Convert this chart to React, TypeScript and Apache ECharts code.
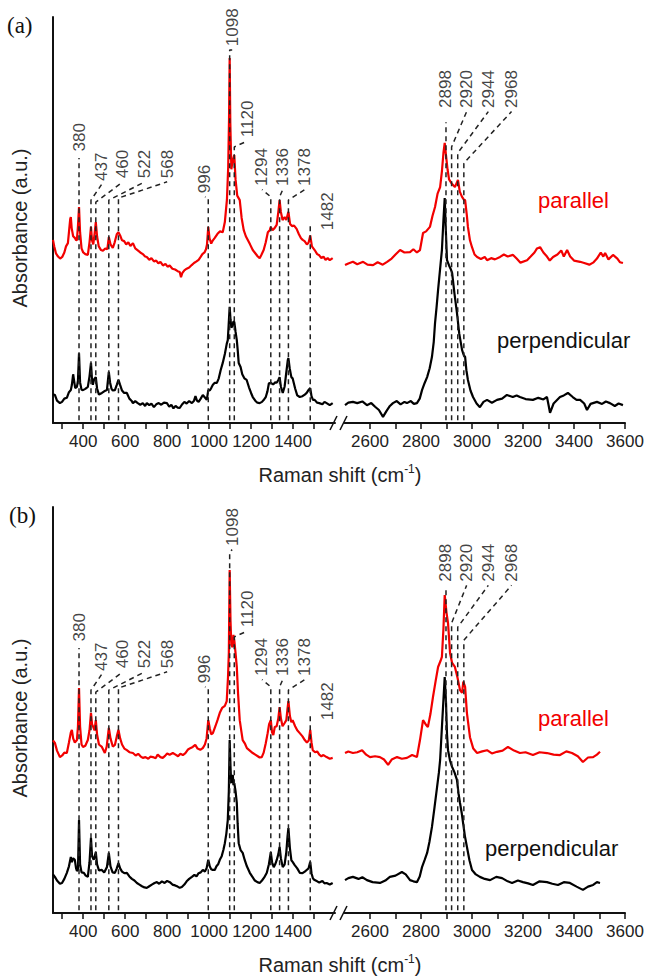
import React, { useEffect, useRef } from "react";
import * as echarts from "echarts";

// ---------------- DATA ----------------
// Raman shift (cm-1) vs absorbance (a.u., arbitrary 0-100 scale)
const lowTicks = [300, 400, 500, 600, 700, 800, 900, 1000, 1100, 1200, 1300, 1400, 1500];
const lowLabels = [400, 600, 800, 1000, 1200, 1400];
const highTicks = [2600, 2700, 2800, 2900, 3000, 3100, 3200, 3300, 3400, 3500, 3600];
const highLabels = [2600, 2800, 3000, 3200, 3400, 3600];

const peaksLow = [380, 437, 460, 522, 568, 996, 1098, 1120, 1294, 1336, 1378, 1482];
const peaksHigh = [2898, 2920, 2944, 2968];

// panel (a)
const parallelA_low = [[256,45.1],[262,43.5],[270,41.8],[280,41.0],[290,40.5],[300,40.9],[310,42.0],[318,43.5],[327,44.3],[333,47.5],[338,50.2],[341,50.7],[345,48.0],[352,46.0],[360,45.6],[366,45.0],[370,45.1],[375,48.5],[380,53.2],[385,47.0],[392,43.0],[400,42.0],[410,41.6],[422,41.4],[430,44.5],[437,48.3],[442,45.0],[448,44.0],[454,46.5],[460,49.5],[466,46.0],[474,43.5],[485,42.6],[494,42.4],[505,43.0],[515,42.8],[522,45.8],[530,44.0],[541,43.1],[550,44.5],[560,46.5],[568,47.0],[576,46.2],[585,45.0],[595,44.8],[605,44.0],[615,44.5],[625,43.6],[637,44.3],[648,43.0],[660,42.5],[672,42.0],[684,41.6],[695,41.0],[703,40.9],[715,40.2],[725,40.6],[737,39.8],[748,40.0],[758,39.3],[768,39.7],[780,38.8],[792,39.2],[802,38.5],[812,38.8],[825,38.0],[838,37.8],[850,37.4],[860,37.2],[866,35.9],[872,36.9],[882,37.6],[893,38.0],[905,38.3],[917,38.9],[928,39.4],[940,39.8],[950,40.2],[958,40.8],[968,41.6],[978,42.0],[985,42.8],[990,44.0],[996,48.3],[1002,45.5],[1010,44.2],[1018,45.0],[1027,45.6],[1040,46.6],[1052,47.2],[1065,47.0],[1075,49.5],[1085,55.0],[1091,63.0],[1095,75.0],[1098,89.9],[1101,74.0],[1106,62.5],[1112,64.5],[1120,66.0],[1126,60.0],[1134,56.0],[1146,54.9],[1155,50.5],[1165,47.5],[1175,46.0],[1185,45.0],[1195,44.0],[1208,42.6],[1220,41.8],[1232,41.0],[1241,40.6],[1250,41.5],[1260,42.6],[1270,44.5],[1280,47.0],[1289,47.5],[1294,48.3],[1302,47.5],[1312,48.0],[1322,48.8],[1330,52.0],[1336,54.9],[1342,52.0],[1350,50.0],[1360,50.7],[1368,50.0],[1378,52.0],[1386,49.0],[1395,48.5],[1405,48.6],[1417,47.8],[1428,46.5],[1438,45.5],[1446,45.1],[1455,44.8],[1466,44.0],[1474,44.4],[1482,46.2],[1490,43.5],[1503,42.6],[1515,41.6],[1525,41.3],[1535,40.6],[1545,41.0],[1555,40.2],[1565,40.6],[1575,40.1],[1589,40.6]];
const perpendicularA_low = [[256,7.1],[265,6.9],[275,5.5],[289,4.9],[299,5.2],[310,6.0],[322,6.2],[332,7.6],[341,8.1],[346,9.4],[352,12.0],[356,10.6],[362,8.6],[370,8.9],[375,10.5],[380,17.2],[385,10.0],[392,8.2],[399,8.1],[410,8.4],[422,8.9],[430,11.5],[437,14.8],[442,10.5],[446,9.4],[452,10.8],[460,11.3],[466,8.5],[475,7.0],[489,7.4],[500,7.8],[513,8.1],[522,12.6],[528,10.0],[535,8.4],[541,8.0],[551,8.1],[560,9.4],[568,10.6],[575,9.5],[585,8.0],[595,7.4],[608,7.4],[620,6.0],[630,5.5],[637,4.9],[648,5.4],[660,4.9],[672,4.5],[684,4.9],[695,4.2],[703,4.9],[715,4.4],[725,4.8],[737,3.9],[748,4.6],[760,4.9],[772,4.5],[785,5.0],[799,4.9],[810,4.0],[820,4.5],[830,3.6],[840,4.2],[850,3.8],[860,3.7],[870,4.5],[882,5.2],[893,4.8],[905,5.4],[918,4.9],[928,5.5],[935,6.6],[942,5.5],[950,5.2],[960,6.0],[970,6.9],[978,6.4],[989,5.7],[996,8.1],[1003,8.0],[1010,8.6],[1018,9.4],[1027,9.9],[1037,9.9],[1046,11.0],[1055,13.0],[1065,14.8],[1075,17.0],[1084,19.5],[1089,20.4],[1093,24.0],[1098,28.6],[1102,25.5],[1106,23.5],[1110,23.8],[1116,25.0],[1120,24.9],[1126,22.5],[1132,20.4],[1137,17.5],[1141,14.8],[1150,13.8],[1158,12.0],[1168,11.0],[1179,10.6],[1190,8.8],[1200,7.4],[1208,6.4],[1220,5.5],[1230,5.0],[1241,4.9],[1252,5.2],[1262,5.8],[1270,6.4],[1278,7.8],[1285,9.8],[1294,9.9],[1305,9.5],[1315,10.0],[1322,9.9],[1330,10.6],[1336,11.3],[1342,9.0],[1351,7.4],[1360,9.0],[1368,12.5],[1375,15.5],[1378,16.0],[1384,13.5],[1392,11.3],[1398,11.0],[1410,8.5],[1420,6.8],[1432,6.4],[1445,6.6],[1456,7.0],[1465,7.4],[1475,8.2],[1482,8.6],[1488,6.6],[1495,5.7],[1503,5.7],[1515,5.0],[1525,4.9],[1540,4.6],[1550,5.2],[1560,4.9],[1575,4.4],[1589,4.9]];
const parallelA_high = [[2502,38.9],[2515,39.3],[2533,39.7],[2550,39.1],[2573,39.7],[2590,39.0],[2612,38.9],[2630,39.6],[2650,39.0],[2667,39.7],[2685,40.5],[2700,41.5],[2718,42.6],[2735,42.0],[2757,42.1],[2770,42.8],[2784,42.0],[2796,42.6],[2808,46.8],[2820,47.2],[2835,48.3],[2845,51.0],[2855,53.2],[2865,56.5],[2875,58.1],[2882,62.0],[2888,66.5],[2893,69.0],[2898,66.0],[2904,62.5],[2910,60.0],[2920,59.0],[2933,58.1],[2945,59.9],[2952,57.0],[2961,55.7],[2968,55.0],[2973,54.9],[2980,51.0],[2984,48.3],[2992,45.0],[3000,43.3],[3010,41.5],[3020,40.9],[3035,40.4],[3050,40.9],[3059,40.1],[3075,40.6],[3090,40.3],[3110,40.9],[3125,41.5],[3140,41.0],[3161,41.4],[3175,40.5],[3190,39.5],[3216,40.1],[3230,41.0],[3245,42.0],[3255,43.0],[3267,43.3],[3280,42.0],[3294,41.0],[3305,40.0],[3318,40.9],[3335,41.5],[3350,42.5],[3360,41.0],[3373,42.6],[3385,41.0],[3400,40.0],[3424,39.7],[3440,39.4],[3460,39.0],[3475,39.5],[3490,40.5],[3505,42.0],[3515,41.0],[3522,41.9],[3535,40.3],[3553,41.4],[3570,40.5],[3580,39.6],[3592,39.4]];
const perpendicularA_high = [[2502,4.4],[2515,5.0],[2533,5.2],[2550,4.9],[2570,5.3],[2588,4.4],[2605,4.9],[2620,4.0],[2635,3.2],[2651,1.5],[2665,3.0],[2678,4.2],[2690,4.9],[2705,5.4],[2720,4.6],[2735,5.2],[2745,4.9],[2760,5.4],[2772,4.7],[2784,4.9],[2795,6.0],[2804,8.1],[2814,9.8],[2824,11.3],[2834,13.5],[2843,16.3],[2850,20.0],[2855,24.6],[2861,28.5],[2867,32.8],[2875,38.0],[2882,42.6],[2888,50.0],[2893,55.4],[2897,48.0],[2902,40.1],[2910,38.8],[2916,38.0],[2922,37.0],[2931,32.0],[2941,27.1],[2950,22.0],[2961,18.0],[2967,16.8],[2973,16.3],[2978,13.0],[2984,10.6],[2994,8.0],[3004,6.4],[3018,4.8],[3031,3.9],[3045,5.2],[3059,5.7],[3078,5.0],[3098,5.7],[3118,6.0],[3137,6.9],[3160,6.4],[3175,6.8],[3188,6.4],[3210,5.9],[3239,5.7],[3260,6.2],[3280,5.8],[3294,6.4],[3300,4.5],[3306,2.5],[3320,4.8],[3345,6.4],[3360,6.8],[3376,7.4],[3395,6.4],[3410,5.7],[3424,5.7],[3440,4.8],[3451,3.2],[3465,4.7],[3490,5.2],[3510,4.7],[3525,5.3],[3541,4.9],[3560,4.2],[3575,4.8],[3592,4.4]];

// panel (b)
const parallelB_low = [[256,42.5],[265,41.9],[275,40.0],[289,38.4],[300,38.8],[310,39.5],[322,39.4],[332,42.0],[341,44.5],[346,45.1],[352,43.0],[360,42.0],[370,42.6],[375,46.0],[380,55.4],[385,46.0],[392,41.5],[399,40.9],[410,41.2],[422,42.6],[430,45.0],[437,49.3],[442,46.5],[448,45.8],[454,45.0],[460,47.5],[466,44.0],[475,41.5],[489,40.9],[503,39.4],[512,41.0],[522,45.6],[530,43.0],[541,41.0],[551,41.4],[560,43.5],[568,45.1],[576,43.0],[585,41.5],[596,40.5],[608,40.1],[620,39.6],[637,39.4],[650,38.8],[662,39.2],[673,38.6],[684,38.2],[697,38.4],[710,38.0],[720,38.5],[732,38.4],[745,38.1],[755,39.0],[768,38.4],[779,38.2],[790,38.7],[800,39.3],[812,39.0],[827,39.4],[840,39.0],[852,38.6],[863,39.2],[875,38.9],[887,39.4],[898,40.2],[910,40.6],[922,40.9],[934,41.4],[945,40.5],[958,40.2],[970,40.6],[980,41.5],[988,43.0],[996,47.5],[1003,45.5],[1010,44.0],[1018,44.3],[1030,46.0],[1040,47.5],[1051,49.3],[1062,50.5],[1075,51.0],[1084,52.2],[1090,58.0],[1094,64.0],[1098,84.5],[1102,72.0],[1106,66.0],[1112,65.5],[1116,68.5],[1120,67.2],[1126,64.0],[1132,60.6],[1138,54.0],[1146,47.5],[1153,45.0],[1160,42.6],[1170,41.8],[1180,40.6],[1194,40.0],[1208,39.4],[1220,39.0],[1232,38.6],[1241,38.3],[1251,38.4],[1260,39.5],[1270,41.8],[1279,44.3],[1286,46.5],[1294,47.5],[1300,44.5],[1306,43.8],[1313,45.8],[1322,46.0],[1330,48.0],[1336,50.7],[1342,48.0],[1350,46.0],[1360,46.8],[1368,47.5],[1373,50.0],[1378,52.2],[1385,48.5],[1392,47.0],[1398,47.5],[1410,46.0],[1420,45.0],[1432,44.3],[1445,43.5],[1456,42.6],[1466,42.0],[1475,42.5],[1482,45.1],[1488,42.0],[1494,40.1],[1505,39.6],[1515,39.8],[1525,39.0],[1535,38.6],[1545,38.9],[1560,38.4],[1575,38.0],[1589,38.2]];
const perpendicularB_low = [[256,9.5],[265,8.9],[275,8.0],[289,7.2],[299,7.4],[310,8.4],[322,9.9],[332,11.5],[341,13.8],[346,12.5],[352,13.5],[360,13.1],[366,11.0],[370,10.4],[375,10.6],[380,22.9],[385,12.0],[392,10.0],[403,9.9],[412,9.2],[422,8.9],[430,12.5],[437,18.5],[442,14.0],[450,13.1],[455,14.0],[460,15.0],[466,12.0],[475,10.5],[489,10.6],[500,10.0],[513,11.3],[522,14.8],[530,11.5],[540,10.0],[551,9.9],[560,11.0],[568,12.3],[576,11.0],[585,10.2],[596,9.8],[608,9.9],[620,9.0],[632,8.4],[644,8.0],[656,7.4],[668,7.0],[680,6.6],[692,6.3],[703,6.2],[715,6.6],[727,7.0],[740,7.4],[751,7.6],[762,7.2],[775,7.8],[788,7.4],[800,7.9],[813,7.6],[825,7.0],[838,6.8],[850,6.5],[860,6.2],[870,6.4],[882,7.0],[893,7.8],[905,8.4],[918,8.9],[930,9.4],[940,9.0],[950,9.8],[960,10.0],[970,10.6],[980,10.2],[988,11.0],[996,13.1],[1003,11.5],[1010,10.8],[1018,10.6],[1027,10.6],[1035,11.5],[1043,12.0],[1051,13.1],[1060,14.0],[1068,15.5],[1075,17.2],[1082,19.5],[1089,22.9],[1094,30.0],[1098,42.6],[1102,36.0],[1105,32.0],[1108,33.5],[1113,34.0],[1116,31.5],[1120,32.0],[1126,30.0],[1132,27.1],[1136,22.0],[1141,17.2],[1150,15.5],[1160,14.8],[1170,13.0],[1180,11.5],[1194,9.9],[1205,9.0],[1218,8.0],[1230,7.6],[1241,7.4],[1252,8.0],[1262,8.7],[1275,9.9],[1285,12.0],[1294,15.0],[1300,12.5],[1308,11.3],[1315,12.0],[1322,13.0],[1330,14.5],[1336,16.3],[1342,13.5],[1351,11.3],[1360,12.0],[1368,15.0],[1374,19.0],[1378,20.9],[1385,16.0],[1392,13.0],[1398,12.6],[1408,11.8],[1420,11.0],[1432,9.9],[1445,9.8],[1456,10.2],[1465,10.6],[1474,11.0],[1482,12.6],[1488,9.8],[1495,8.5],[1503,8.1],[1515,7.8],[1525,7.5],[1540,7.9],[1550,7.3],[1560,7.4],[1575,7.0],[1589,7.4]];
const parallelB_high = [[2502,39.4],[2515,39.8],[2533,39.4],[2550,39.6],[2569,40.1],[2585,39.0],[2600,38.4],[2620,38.6],[2639,38.4],[2655,37.8],[2671,36.5],[2685,37.8],[2706,38.4],[2725,38.0],[2745,38.2],[2765,38.9],[2784,38.4],[2796,42.6],[2808,47.5],[2818,46.5],[2827,45.8],[2837,49.0],[2847,53.2],[2857,57.0],[2867,60.6],[2876,62.0],[2882,63.1],[2888,70.0],[2893,78.3],[2900,74.0],[2906,71.4],[2914,64.0],[2922,61.6],[2933,60.6],[2943,58.0],[2953,54.9],[2961,54.2],[2966,57.0],[2973,55.7],[2980,49.3],[2992,43.3],[3005,40.5],[3020,39.4],[3040,39.8],[3059,40.1],[3078,39.3],[3098,39.7],[3120,40.0],[3141,40.9],[3165,40.0],[3188,39.4],[3210,39.6],[3239,38.9],[3265,39.6],[3294,39.4],[3320,39.0],[3345,38.9],[3370,39.8],[3392,39.4],[3415,38.6],[3435,37.2],[3455,38.3],[3475,38.4],[3490,39.0],[3502,39.7]];
const perpendicularB_high = [[2502,8.1],[2515,8.6],[2533,8.9],[2555,8.4],[2570,8.8],[2588,8.1],[2610,7.6],[2639,7.4],[2660,8.0],[2678,8.9],[2700,9.2],[2725,10.1],[2740,9.5],[2757,8.1],[2770,7.8],[2784,7.6],[2795,9.0],[2804,11.3],[2814,13.0],[2824,14.8],[2833,17.5],[2843,21.2],[2853,26.0],[2863,31.0],[2870,34.5],[2875,37.7],[2884,48.0],[2893,58.1],[2898,52.0],[2902,44.0],[2906,40.1],[2914,37.5],[2922,36.0],[2932,34.5],[2941,32.8],[2947,29.5],[2953,27.1],[2960,24.5],[2965,22.2],[2972,19.0],[2980,16.3],[2990,13.0],[3000,10.6],[3015,9.5],[3031,8.9],[3050,8.4],[3071,8.1],[3095,8.9],[3118,8.6],[3140,7.8],[3157,7.4],[3180,8.0],[3200,7.6],[3220,7.3],[3239,6.9],[3265,7.8],[3294,7.6],[3315,7.2],[3337,6.9],[3360,7.6],[3384,7.4],[3410,6.5],[3435,5.7],[3455,6.5],[3475,6.9],[3490,7.6],[3502,7.4]];

// ---------------- ANNOTATION LAYOUT (data units) ----------------
// [lineTop, labelX, labelY] for each peak, same order as peaksLow / peaksHigh
const annLowA = [[65.3,380,66.9],[54.9,487,59.6],[54.4,589,60.3],[54.9,694,60.3],[55.4,800,60.3],[55.4,980,56.6],[91.9,1110,92.8],[68.0,1184,70.4],[55.7,1252,58.4],[55.7,1351,58.4],[54.9,1456,58.4],[49.3,1565,47.5]];
const annHighA = [[74.1,2898,77.6],[68.0,2979,77.6],[66.5,3064,77.6],[64.0,3155,77.6]];
const annLowB = [[65.3,380,66.9],[54.9,487,59.6],[54.4,589,60.3],[54.9,694,60.3],[55.4,800,60.3],[55.4,980,56.6],[88.9,1110,90.4],[68.0,1184,70.4],[55.7,1252,58.4],[55.7,1351,58.4],[54.9,1456,58.4],[49.3,1565,47.5]];
const annHighB = [[80.3,2898,81.6],[71.4,2979,81.6],[70.4,3064,81.6],[67.2,3155,81.6]];

// ---------------- LAYOUT ----------------
const SANS = "'Liberation Sans', Arial, Helvetica, sans-serif";
const SERIF = "'Liberation Serif', 'Times New Roman', serif";
const PANEL_TOPS = [17, 507];
const PLOT_H = 406;
const LOW_LEFT = 53, LOW_W = 282;
const HIGH_LEFT = 344.5, HIGH_W = 280.5;

function buildOption() {
  const grids: any[] = [];
  const xAxes: any[] = [];
  const yAxes: any[] = [];
  const series: any[] = [];
  const graphic: any[] = [];

  const panels = [
    { low: [parallelA_low, perpendicularA_low], high: [parallelA_high, perpendicularA_high], annLow: annLowA, annHigh: annHighA, tag: "(a)", parY: 200, perpX: 497, perpY: 340, tagX: 7 },
    { low: [parallelB_low, perpendicularB_low], high: [parallelB_high, perpendicularB_high], annLow: annLowB, annHigh: annHighB, tag: "(b)", parY: 718, perpX: 485, perpY: 848, tagX: 9 },
  ];

  panels.forEach((pn, pi) => {
    const top = PANEL_TOPS[pi];
    const off = top - PANEL_TOPS[0];
    [0, 1].forEach((side) => {
      const gi = pi * 2 + side;
      grids.push({
        left: side === 0 ? LOW_LEFT : HIGH_LEFT,
        top,
        width: side === 0 ? LOW_W : HIGH_W,
        height: PLOT_H,
        outerBoundsMode: "none",
      });
      xAxes.push({
        type: "value",
        gridIndex: gi,
        min: side === 0 ? 256 : 2500,
        max: side === 0 ? 1600 : 3600,
        axisLine: { show: true, onZero: false, lineStyle: { color: "#111", width: 2 } },
        axisTick: {
          show: true,
          customValues: side === 0 ? lowTicks : highTicks,
          length: 6,
          lineStyle: { color: "#111", width: 1.5 },
        },
        axisLabel: {
          show: true,
          customValues: side === 0 ? lowLabels : highLabels,
          formatter: (v: number) => String(v),
          hideOverlap: false,
          fontSize: 17,
          color: "#222",
          fontFamily: SANS,
          margin: 10,
        },
        splitLine: { show: false },
      });
      yAxes.push({
        type: "value",
        gridIndex: gi,
        min: 0,
        max: 100,
        show: side === 0,
        axisLine: { show: side === 0, lineStyle: { color: "#111", width: 2 } },
        axisTick: { show: false },
        axisLabel: { show: false },
        splitLine: { show: false },
      });

      const curves = side === 0 ? pn.low : pn.high;
      const colors = ["#f20000", "#000000"];
      curves.forEach((d, ci) => {
        series.push({
          type: "line",
          xAxisIndex: gi,
          yAxisIndex: gi,
          data: d,
          symbol: "none",
          showSymbol: false,
          silent: true,
          lineStyle: { color: colors[ci], width: 2.2 },
          z: 3,
        });
      });

      const peaks = side === 0 ? peaksLow : peaksHigh;
      const ann = side === 0 ? pn.annLow : pn.annHigh;
      peaks.forEach((p, k) => {
        const [lineTop, lx, ly] = ann[k];
        const pts: any[] = [[p, 0.7], [p, lineTop]];
        if (ly > lineTop && Math.abs(lx - p) > 1) pts.push([lx, ly - 0.9]);
        series.push({
          type: "line",
          xAxisIndex: gi,
          yAxisIndex: gi,
          data: pts,
          symbol: "none",
          silent: true,
          lineStyle: { color: "#222", width: 1.5, type: [5, 4] },
          z: 4,
        });
      });
      series.push({
        type: "scatter",
        xAxisIndex: gi,
        yAxisIndex: gi,
        symbolSize: 0,
        silent: true,
        data: peaks.map((p, k) => [ann[k][1], ann[k][2], String(p)]),
        label: {
          show: true,
          formatter: (prm: any) => prm.value[2],
          position: "inside",
          rotate: 90,
          align: "left",
          verticalAlign: "middle",
          fontSize: 17,
          color: "#111",
          fontFamily: SANS,
        },
        z: 5,
      });
    });

    // axis break marks
    const by = top + PLOT_H;
    graphic.push(
      { type: "line", shape: { x1: 330, y1: by + 7, x2: 337, y2: by - 7 }, style: { stroke: "#111", lineWidth: 1.5 } },
      { type: "line", shape: { x1: 340, y1: by + 7, x2: 347, y2: by - 7 }, style: { stroke: "#111", lineWidth: 1.5 } }
    );
    // texts
    graphic.push(
      { type: "text", x: pn.tagX, y: 25 + off, style: { text: pn.tag, font: `23px ${SERIF}`, fill: "#111", verticalAlign: "middle" } },
      { type: "text", x: 538, y: pn.parY, style: { text: "parallel", font: `22px ${SANS}`, fill: "#f20000", verticalAlign: "middle" } },
      { type: "text", x: pn.perpX, y: pn.perpY, style: { text: "perpendicular", font: `22px ${SANS}`, fill: "#111", verticalAlign: "middle" } },
      { type: "text", x: 20, y: 228 + off, rotation: Math.PI / 2, style: { text: "Absorbance (a.u.)", font: `20px ${SANS}`, fill: "#222", align: "center", verticalAlign: "middle" } },
      {
        type: "text",
        x: 340,
        y: 474 + off,
        style: {
          text: "{a|Raman shift (cm}{s|-1}{a|)}",
          align: "center",
          verticalAlign: "middle",
          rich: {
            a: { fontSize: 20, fontFamily: SANS, fill: "#222", lineHeight: 22, verticalAlign: "bottom" },
            s: { fontSize: 12, fontFamily: SANS, fill: "#222", lineHeight: 22, verticalAlign: "top", padding: [0, 0, 8, 0] },
          },
        },
      }
    );
  });

  return {
    animation: false,
    backgroundColor: "#ffffff",
    grid: grids,
    xAxis: xAxes,
    yAxis: yAxes,
    series,
    graphic,
  };
}

export default function App() {
  const ref = useRef<HTMLDivElement>(null);
  useEffect(() => {
    document.body.style.margin = "0";
    const chart = echarts.init(ref.current!, null, { renderer: "svg" });
    chart.setOption(buildOption() as any);
    return () => chart.dispose();
  }, []);
  return <div ref={ref} style={{ position: "absolute", left: 0, top: 0, width: 645, height: 978 }} />;
}
